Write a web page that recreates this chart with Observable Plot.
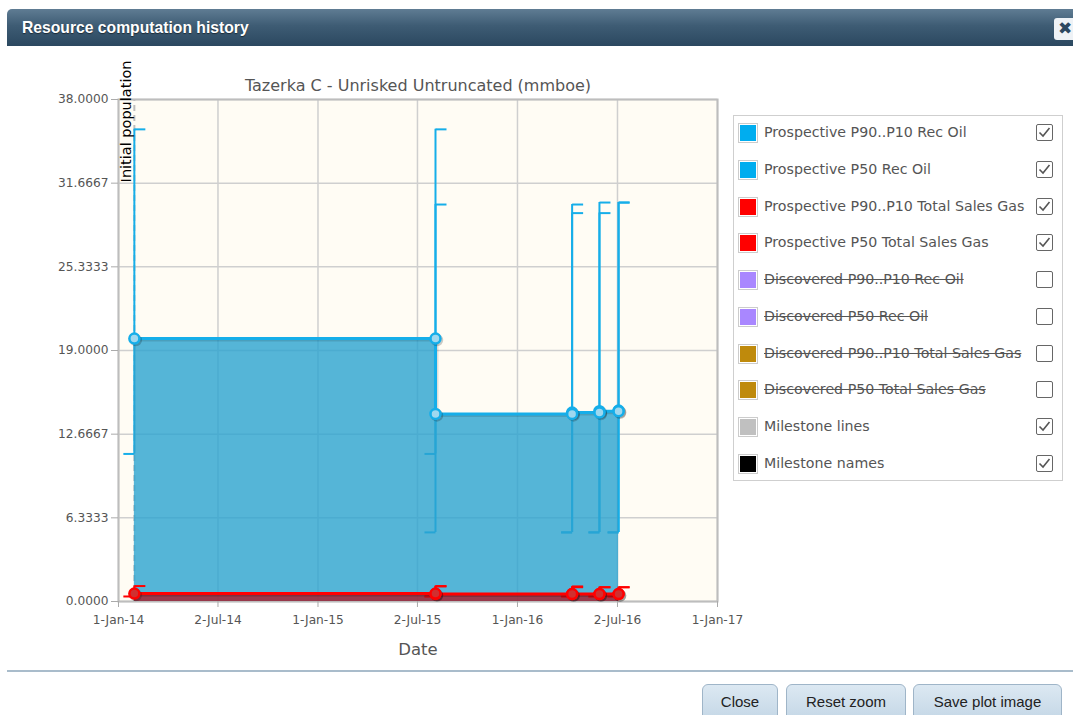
<!DOCTYPE html>
<html>
<head>
<meta charset="utf-8">
<script src="https://cdn.jsdelivr.net/npm/d3@7"></script>
<script src="https://cdn.jsdelivr.net/npm/@observablehq/plot@0.6"></script>
<style>
  html, body { margin:0; padding:0; background:#fff; width:1073px; height:715px; overflow:hidden; }
  body { position:relative; font-family:"DejaVu Sans", sans-serif; }
  #header { position:absolute; left:7px; top:9px; width:1080px; height:37px; border-radius:5px 0 0 0;
    background:linear-gradient(#5f7c93, #3e5c74 45%, #2b4860); }
  #header .t { position:absolute; left:15px; top:10px; color:#fff; font:bold 15.7px "Liberation Sans", Arial, sans-serif;
    text-shadow:0 1px 1px rgba(0,0,0,0.5); }
  #xbtn { position:absolute; left:1054px; top:18px; width:22px; height:22px; background:#eef2f6; border-radius:3px;
    color:#2b4860; font:bold 17px "DejaVu Sans", sans-serif; line-height:21px; text-align:center; }
  #chart { position:absolute; left:0; top:50px; }
  #legend { position:absolute; left:733px; top:115px; width:328px; height:364px; border:1px solid #cfcfcf; background:#fff; }
  .row { position:absolute; left:0; width:328px; height:20px; }
  .sw { position:absolute; left:4px; top:0; width:16px; height:16px; border:1px solid #ccc; padding:1px; background:#fff; }
  .sw div { width:16px; height:16px; }
  .lab { position:absolute; left:30px; top:0px; font-size:14.2px; color:#555; white-space:nowrap; line-height:19px; }
  .lab.off { text-decoration:line-through; text-decoration-color:#555; }
  .cb { position:absolute; left:302px; top:1px; width:15px; height:15px; border:1.5px solid #666; border-radius:2px; background:#fff; }
  #sep { position:absolute; left:7px; top:670px; width:1066px; height:1.5px; background:#a9bccb; }
  .btn { position:absolute; top:684px; height:40px; border:1px solid #9fb5c8; border-radius:6px;
    background:linear-gradient(#dce8f2, #c2d5e5); font:15px "Liberation Sans", Arial, sans-serif; color:#222;
    text-align:center; line-height:34px; box-sizing:border-box; }
</style>
</head>
<body>
<div id="header"><div class="t">Resource computation history</div></div>
<div id="xbtn">✖</div>
<div id="chart"></div>
<div id="legend"></div>
<div id="sep"></div>
<div class="btn" style="left:702px;width:76px;">Close</div>
<div class="btn" style="left:786px;width:120px;">Reset zoom</div>
<div class="btn" style="left:913px;width:149px;">Save plot image</div>
<script>
// ---- data ----
const eventDates = ["2014-01-30", "2015-08-04", "2016-04-10", "2016-05-30", "2016-07-04"];
const oilP90 = [11.17, 5.23, 5.23, 5.23, 5.23];
const oilP50 = [19.9, 14.2, 14.3, 14.4, 14.45];
const oilP10 = [35.74, 30.05, 29.4, 30.2, 30.2];
const gasP90 = [0.38, 0.38, 0.38, 0.38, 0.38];
const gasP50 = [0.6, 0.56, 0.56, 0.56, 0.56];
const gasP10 = [1.17, 1.14, 1.08, 1.08, 1.08];
const milestoneDates = ["2014-01-30"];
const milestoneNames = ["Initial population"];
const xTickDates = ["2014-01-01", "2014-07-02", "2015-01-01", "2015-07-02", "2016-01-01", "2016-07-02", "2017-01-01"];
const yTickValues = [0, 6.3333, 12.6667, 19, 25.3333, 31.6667, 38];
const chartTitle = "Tazerka C - Unrisked Untruncated (mmboe)";
const xLabel = "Date";
const legendLabels = ["Prospective P90..P10 Rec Oil", "Prospective P50 Rec Oil", "Prospective P90..P10 Total Sales Gas",
  "Prospective P50 Total Sales Gas", "Discovered P90..P10 Rec Oil", "Discovered P50 Rec Oil",
  "Discovered P90..P10 Total Sales Gas", "Discovered P50 Total Sales Gas", "Milestone lines", "Milestone names"];
const legendColors = ["#00adef", "#00adef", "#ff0000", "#ff0000", "#a987ff", "#a987ff", "#bf8a0c", "#bf8a0c", "#c0c0c0", "#000000"];
const legendChecked = [true, true, true, true, false, false, false, false, true, true];

// ---- build tables ----
const parse = d3.utcParse("%Y-%m-%d");
const rows = eventDates.map((d, i) => ({date: parse(d), oil50: oilP50[i], gas50: gasP50[i]}));
const bars = [];
eventDates.forEach((d, i) => {
  bars.push({date: parse(d), oilLo: oilP90[i], oilHi: oilP10[i], gasLo: gasP90[i], gasHi: gasP10[i], initial: i === 0});
  if (i > 0) bars.push({date: parse(d), oilLo: oilP90[i-1], oilHi: oilP10[i-1], gasLo: gasP90[i-1], gasHi: gasP10[i-1], initial: false});
});
const pts = [];
eventDates.forEach((d, i) => {
  pts.push({date: parse(d), oil: oilP50[i], gas: gasP50[i]});
  if (i > 0) pts.push({date: parse(d), oil: oilP50[i-1], gas: gasP50[i-1]});
});
const milestones = milestoneDates.map((d, i) => ({date: parse(d), name: milestoneNames[i]}));
const xTicks = xTickDates.map(parse);

const capRight = {draw(ctx) { ctx.moveTo(0, 0); ctx.lineTo(11, 0); }};
const capLeft = {draw(ctx) { ctx.moveTo(-11, 0); ctx.lineTo(0, 0); }};
const OIL = "#16aee9", GAS = "#ff0000";

const chart = Plot.plot({
  width: 760, height: 620,
  marginLeft: 118, marginRight: 43, marginTop: 49, marginBottom: 69,
  style: {fontFamily: "DejaVu Sans, sans-serif", fontSize: "12.2px", color: "#555", background: "transparent"},
  x: {type: "utc", domain: [parse("2014-01-01"), parse("2017-01-01")]},
  y: {domain: [0, 38]},
  marks: [
    Plot.frame({fill: "#fffcf4", stroke: null}),
    Plot.gridX({ticks: xTicks, stroke: "#cfcfcf", strokeOpacity: 1, strokeWidth: 1.5}),
    Plot.gridY({ticks: yTickValues, stroke: "#cfcfcf", strokeOpacity: 1, strokeWidth: 1.5}),
    Plot.frame({stroke: "#bdbdbd", strokeWidth: 2}),
    Plot.axisX({ticks: xTicks, tickFormat: d3.utcFormat("%-d-%b-%y"), tickSize: 6, tickPadding: 8, stroke: "#aaa", label: null}),
    Plot.axisY({ticks: yTickValues, tickFormat: d => d.toFixed(4), tickSize: 7, tickPadding: 3, stroke: "#aaa", label: null}),
    // milestone lines
    Plot.ruleX(milestones, {x: "date", y1: 0, y2: 38, stroke: "#bdbdbd", strokeWidth: 2, strokeDasharray: "6,4"}),
    // oil error bars
    Plot.ruleX(bars, {x: "date", y1: "oilLo", y2: "oilHi", stroke: OIL, strokeWidth: 2,
      strokeDasharray: d => d.initial ? "6,4" : null}),
    Plot.dot(bars, {x: "date", y: "oilHi", symbol: capRight, r: 5, stroke: OIL, strokeWidth: 2, fill: "none"}),
    Plot.dot(bars, {x: "date", y: "oilLo", symbol: capLeft, r: 5, stroke: OIL, strokeWidth: 2, fill: "none"}),
    // oil area
    Plot.areaY(rows, {x: "date", y: "oil50", curve: "step-after", fill: "#2aa2cf", fillOpacity: 0.8}),
    // gas error bars
    Plot.ruleX(bars, {x: "date", y1: "gasLo", y2: "gasHi", stroke: GAS, strokeWidth: 2}),
    Plot.dot(bars, {x: "date", y: "gasHi", symbol: capRight, r: 5, stroke: GAS, strokeWidth: 2, fill: "none"}),
    Plot.dot(bars, {x: "date", y: "gasLo", symbol: capLeft, r: 5, stroke: GAS, strokeWidth: 2, fill: "none"}),
    // gas area
    Plot.areaY(rows, {x: "date", y: "gas50", curve: "step-after", fill: "#b0121c", fillOpacity: 0.75}),
    // shadows
    Plot.lineY(rows, {x: "date", y: "oil50", curve: "step-after", stroke: "#000", strokeOpacity: 0.12, strokeWidth: 3, dx: 1.5, dy: 1.5}),
    Plot.lineY(rows, {x: "date", y: "gas50", curve: "step-after", stroke: "#000", strokeOpacity: 0.18, strokeWidth: 3, dx: 1.5, dy: 1.5}),
    // lines
    Plot.lineY(rows, {x: "date", y: "oil50", curve: "step-after", stroke: OIL, strokeWidth: 3}),
    Plot.lineY(rows, {x: "date", y: "gas50", curve: "step-after", stroke: GAS, strokeWidth: 3}),
    // points
    Plot.dot(pts, {x: "date", y: "oil", r: 5, stroke: "#000", strokeOpacity: 0.2, strokeWidth: 2.5, fill: "none", dx: 1.5, dy: 1.5}),
    Plot.dot(pts, {x: "date", y: "oil", r: 5, stroke: OIL, strokeWidth: 2.5, fill: "#9fd8ef"}),
    Plot.dot(pts, {x: "date", y: "gas", r: 5, stroke: "#000", strokeOpacity: 0.2, strokeWidth: 2.5, fill: "none", dx: 1.5, dy: 1.5}),
    Plot.dot(pts, {x: "date", y: "gas", r: 5, stroke: GAS, strokeWidth: 2.5, fill: "#d03030"}),
    // milestone names
    Plot.text(milestones, {x: "date", frameAnchor: "top", text: "name", rotate: -90, textAnchor: "end", lineAnchor: "bottom",
      dx: -3, dy: -39, fill: "#000", fontSize: 14.5}),
    // title & x label
    Plot.text([chartTitle], {frameAnchor: "top", text: d => d, dy: -14, lineAnchor: "middle", fontSize: 16, fill: "#555"}),
    Plot.text([xLabel], {frameAnchor: "bottom", text: d => d, dy: 48, lineAnchor: "middle", fontSize: 16.5, fill: "#555"})
  ]
});
document.getElementById("chart").appendChild(chart);

// legend
const legend = document.getElementById("legend");
const checkSvg = '<svg width="15" height="15" viewBox="0 0 15 15"><polyline points="2.5,7.5 6,11 12.5,3" fill="none" stroke="#555" stroke-width="1.6"/></svg>';
legendLabels.forEach((lab, i) => {
  const r = document.createElement("div");
  r.className = "row";
  r.style.top = (7 + i * 36.75) + "px";
  r.innerHTML = `<div class="sw"><div style="background:${legendColors[i]}"></div></div>` +
    `<div class="lab${legendChecked[i] ? "" : " off"}">${lab}</div>` +
    `<div class="cb">${legendChecked[i] ? checkSvg : ""}</div>`;
  legend.appendChild(r);
});
</script>
</body>
</html>
